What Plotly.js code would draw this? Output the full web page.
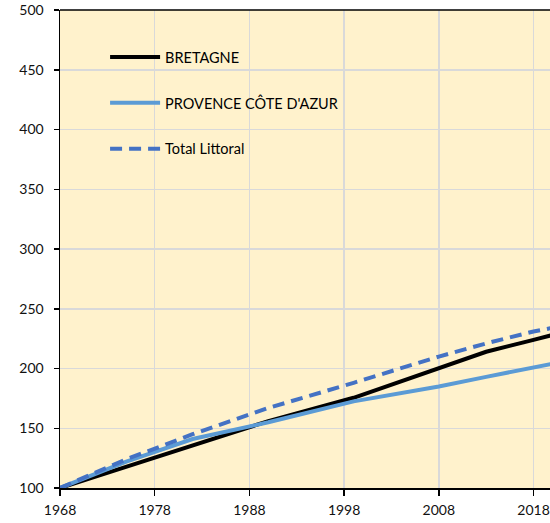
<!DOCTYPE html>
<html>
<head>
<meta charset="utf-8">
<script src="https://cdn.plot.ly/plotly-3.0.1.min.js"></script>
<style>html,body{margin:0;padding:0;background:#fff;}#chart{width:550px;height:523px;}</style>
</head>
<body>
<div id="chart"></div>
<script>
const years = [1968, 1975, 1982, 1990, 1999, 2008, 2013, 2018, 2020];
const bretagne = [100, 118, 136, 156, 175.5, 200, 214, 224, 228];
const paca = [100, 122, 141, 155, 172.5, 185, 193, 201, 204];
const totalLittoral = [100, 124, 145, 167, 188, 210, 221, 231, 234];
const seriesNames = ["BRETAGNE", "PROVENCE CÔTE D'AZUR", "Total Littoral"];
const xTicks = [1968, 1978, 1988, 1998, 2008, 2018];
const yTicks = [100, 150, 200, 250, 300, 350, 400, 450, 500];

const traces = [
  {x: years, y: bretagne, name: seriesNames[0], legendgroup: 'a', mode: 'lines',
   line: {color: '#000000', width: 4}},
  {x: years, y: paca, name: seriesNames[1], legendgroup: 'b', mode: 'lines',
   line: {color: '#5B9BD5', width: 4}},
  {x: years, y: totalLittoral, name: seriesNames[2], legendgroup: 'c', mode: 'lines',
   line: {color: '#4472C4', width: 4, dash: '12px,7px'}}
];

const layout = {
  width: 550, height: 523,
  margin: {l: 60, r: 0, t: 10, b: 35},
  paper_bgcolor: '#ffffff',
  plot_bgcolor: '#FFF2CC',
  font: {family: 'Lato, "Open Sans", sans-serif', size: 14, color: '#111'},
  showlegend: true,
  legend: {x: 0.092, y: 0.935, xanchor: 'left', yanchor: 'top', bgcolor: 'rgba(0,0,0,0)',
           traceorder: 'grouped', tracegroupgap: 24, itemwidth: 50,
           font: {size: 14.5, color: '#000'}},
  xaxis: {range: [1968, 2019.74], tickvals: xTicks, ticktext: xTicks.map(String),
          showgrid: true, gridcolor: '#D9D9D9', gridwidth: 1.5,
          showline: true, linecolor: '#000', linewidth: 1.5,
          ticks: 'outside', ticklen: 6, tickcolor: '#000', tickwidth: 1.5,
          ticklabelstandoff: 3,
          zeroline: false, fixedrange: true},
  yaxis: {range: [100, 500], tickvals: yTicks, ticktext: yTicks.map(String),
          showgrid: true, gridcolor: '#D9D9D9', gridwidth: 1.5,
          showline: true, linecolor: '#000', linewidth: 1.5,
          ticks: 'outside', ticklen: 5, tickcolor: '#000', tickwidth: 1.5,
          ticklabelstandoff: 7,
          zeroline: false, fixedrange: true},
  shapes: [{type: 'line', xref: 'paper', yref: 'paper', x0: 0, x1: 1, y0: 1, y1: 1,
            line: {color: '#000', width: 1.5}}]
};

Plotly.newPlot('chart', traces, layout, {displayModeBar: false, staticPlot: true});
</script>
</body>
</html>
